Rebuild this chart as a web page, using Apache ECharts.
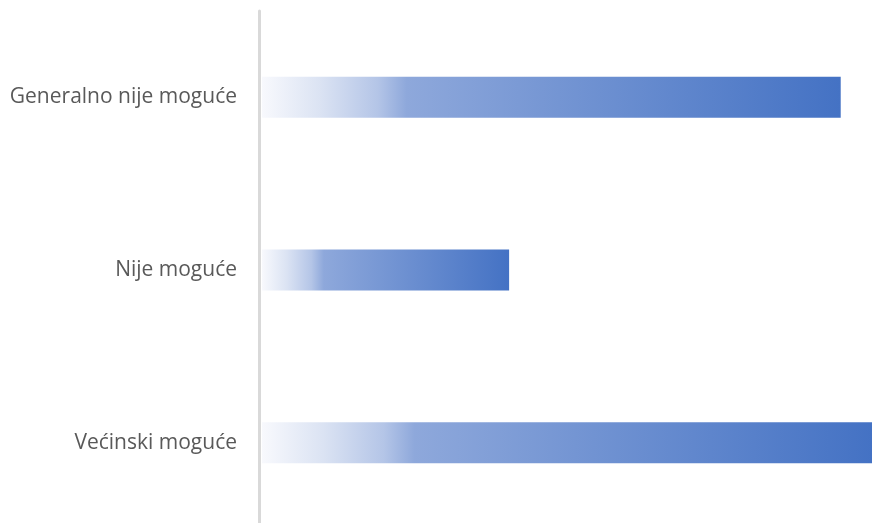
<!DOCTYPE html>
<html>
<head>
<meta charset="utf-8">
<script src="https://cdn.jsdelivr.net/npm/echarts@6/dist/echarts.min.js"></script>
<style>
html,body{margin:0;padding:0;background:#fff;overflow:hidden;}
#chart{width:872px;height:529px;}
</style>
</head>
<body>
<div id="chart"></div>
<script>
const categories = ['Generalno nije moguće', 'Nije moguće', 'Većinski moguće'];
const values = [37, 15.8, 39];
const valueMin = -0.19;
const valueMax = 39;

const chart = echarts.init(document.getElementById('chart'), null, {renderer: 'canvas'});
const grad = new echarts.graphic.LinearGradient(0, 0, 1, 0, [
  {offset: 0, color: '#f8f9fd'},
  {offset: 0.1, color: '#dbe3f3'},
  {offset: 0.2, color: '#b4c5e7'},
  {offset: 0.25, color: '#8ea8db'},
  {offset: 1, color: '#4472c4'}
]);
chart.setOption({
  animation: false,
  grid: {left: 259, right: 0, top: 11, bottom: 0, containLabel: false},
  xAxis: {
    type: 'value', min: valueMin, max: valueMax, show: false
  },
  yAxis: {
    type: 'category', data: categories, inverse: true,
    axisLine: {show: true, onZero: false, lineStyle: {color: '#d9d9d9', width: 3}},
    axisTick: {show: false},
    axisLabel: {color: '#595959', fontSize: 21, fontFamily: 'Open Sans', margin: 22}
  },
  series: [{
    type: 'bar', data: values, barWidth: 41,
    itemStyle: {color: grad}
  }]
});
</script>
</body>
</html>
